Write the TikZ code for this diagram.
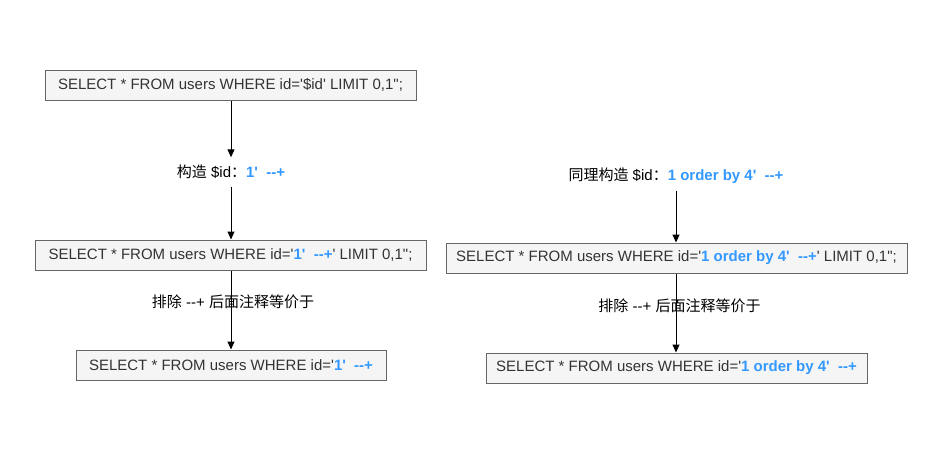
\documentclass[tikz,border=0pt]{standalone}
\usepackage{fontspec}
\setmainfont{Liberation Sans}[Ligatures=TeXOff]
\newfontfamily\cjk{Noto Sans CJK SC}
\usetikzlibrary{arrows.meta}
\definecolor{hl}{RGB}{51,153,255}
\definecolor{boxfill}{HTML}{F5F5F5}
\definecolor{boxline}{HTML}{666666}
\definecolor{boxtext}{HTML}{333333}
\newcommand{\hlb}[1]{\textcolor{hl}{\bfseries #1}}
\begin{document}
\begin{tikzpicture}[x=1pt,y=-1pt, font=\fontsize{15}{18}\selectfont,
  sqlbox/.style={draw=boxline, fill=boxfill, text=boxtext, line width=1pt, minimum height=30pt, inner sep=0pt},
  lbl/.style={inner sep=0pt, minimum height=29pt, text=black},
  arr/.style={-{Triangle[length=8pt,width=7pt]}, line width=1pt}]
\useasboundingbox[fill=white] (0,0) rectangle (952,461);
% left column
\node[sqlbox, minimum width=371pt] (b1) at (230.5,85) {SELECT * FROM users WHERE id='\$id' LIMIT 0,1";};
\node[lbl] (l1) at (231,172) {{\cjk 构造} \$id{\cjk ：}\hlb{1'~~--+}};
\node[sqlbox, minimum width=391pt] (b2) at (230.5,255) {SELECT * FROM users WHERE id='\hlb{1'~~--+}' LIMIT 0,1";};
\node[sqlbox, minimum width=310pt] (b3) at (231,365) {SELECT * FROM users WHERE id='\hlb{1'~~--+}};
\node[lbl] (l2) at (233,302) {{\cjk 排除} --+ {\cjk 后面注释等价于}};
\draw[arr] (b1.south -| l1.north) -- (l1.north);
\draw[arr] (l1.south) -- (l1.south |- b2.north);
\draw[arr] (b2.south -| l1.south) -- (l1.south |- b3.north);
% right column
\node[lbl] (r1) at (676,176) {{\cjk 同理构造} \$id{\cjk ：}\hlb{1 order by 4'~~--+}};
\node[sqlbox, minimum width=461pt] (r2) at (676.5,258) {SELECT * FROM users WHERE id='\hlb{1 order by 4'~~--+}' LIMIT 0,1";};
\node[sqlbox, minimum width=381pt] (r3) at (676.5,368) {SELECT * FROM users WHERE id='\hlb{1 order by 4'~~--+}};
\node[lbl] (r4) at (679.5,306) {{\cjk 排除} --+ {\cjk 后面注释等价于}};
\draw[arr] (r1.south) -- (r1.south |- r2.north);
\draw[arr] (r2.south -| r1.south) -- (r1.south |- r3.north);
\end{tikzpicture}
\end{document}
